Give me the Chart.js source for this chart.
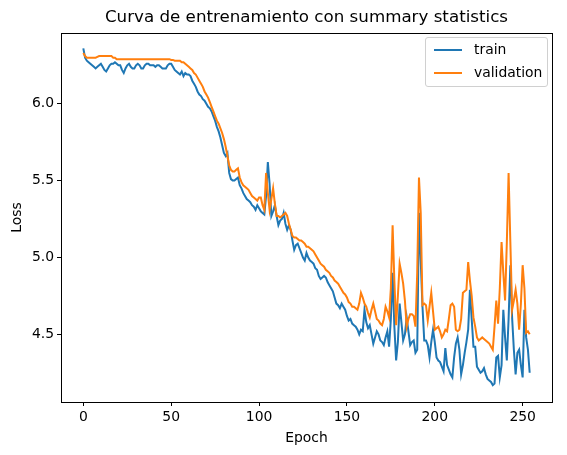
<!DOCTYPE html>
<html>
<head>
<meta charset="utf-8">
<script src="https://cdn.jsdelivr.net/npm/chart.js@4.4.1/dist/chart.umd.min.js"></script>
<style>
  html, body { margin: 0; padding: 0; background: #fff; }
  #wrap { position: relative; width: 567px; height: 455px; }
  canvas { display: block; }
  #legend {
    position: absolute; left: 425px; top: 37px; width: 123px; height: 50px;
    border: 1px solid #d0d0d0; border-radius: 3px; background: rgba(255,255,255,0.8);
    font-family: "DejaVu Sans", sans-serif; font-size: 13.9px; color: #000; box-sizing: border-box;
  }
  .item { position: absolute; left: 0; height: 16px; line-height: 16px; }
  .swatch { position: absolute; left: 8px; top: 7px; width: 28px; height: 2px; }
  .lbl { position: absolute; left: 48px; top: -1px; white-space: nowrap; }
</style>
</head>
<body>
<div id="wrap">
  <canvas id="c" width="567" height="455"></canvas>
  <div id="legend">
    <div class="item" style="top:4px"><div class="swatch" style="background:#1f77b4"></div><span class="lbl">train</span></div>
    <div class="item" style="top:27px"><div class="swatch" style="background:#ff7f0e"></div><span class="lbl">validation</span></div>
  </div>
</div>
<script>
const seriesNames = ["train", "validation"];
const xTicks = [0, 50, 100, 150, 200, 250];
const yTicks = [4.5, 5.0, 5.5, 6.0];

const trainLoss = [
6.36,6.30,6.28,6.27,6.26,6.25,6.24,6.23,6.24,6.25,
6.26,6.24,6.22,6.21,6.23,6.25,6.26,6.26,6.27,6.26,
6.25,6.25,6.22,6.20,6.23,6.25,6.26,6.24,6.23,6.23,
6.25,6.26,6.25,6.23,6.23,6.25,6.26,6.26,6.25,6.25,
6.25,6.24,6.25,6.25,6.24,6.23,6.23,6.23,6.25,6.26,
6.26,6.24,6.22,6.21,6.20,6.19,6.21,6.18,6.20,6.19,
6.19,6.18,6.15,6.13,6.11,6.08,6.06,6.05,6.03,6.02,
6.00,5.98,5.97,5.95,5.92,5.89,5.85,5.82,5.78,5.73,
5.68,5.66,5.68,5.55,5.51,5.50,5.50,5.51,5.52,5.47,
5.45,5.42,5.40,5.38,5.37,5.36,5.34,5.33,5.31,5.34,
5.32,5.30,5.29,5.28,5.40,5.62,5.48,5.27,5.30,5.34,
5.27,5.21,5.24,5.25,5.29,5.22,5.18,5.21,5.18,5.11,
5.05,5.08,5.09,5.06,5.03,5.00,4.98,5.03,5.00,4.98,
4.97,4.96,4.93,4.92,4.88,4.86,4.87,4.88,4.87,4.84,
4.82,4.80,4.78,4.74,4.70,4.69,4.67,4.70,4.68,4.66,
4.62,4.59,4.60,4.57,4.56,4.55,4.53,4.50,4.53,4.52,
4.66,4.58,4.54,4.56,4.50,4.44,4.48,4.52,4.50,4.46,
4.45,4.43,4.48,4.52,4.42,4.60,4.90,4.55,4.33,4.45,
4.70,4.58,4.46,4.50,4.61,4.52,4.43,4.45,4.46,4.38,
4.40,5.29,4.98,4.68,4.46,4.46,4.43,4.35,4.45,4.53,
4.45,4.35,4.33,4.32,4.29,4.26,4.41,4.30,4.27,4.24,
4.22,4.35,4.44,4.48,4.40,4.24,4.30,4.38,4.45,4.53,
4.79,4.60,4.42,4.42,4.29,4.27,4.25,4.26,4.28,4.24,
4.21,4.20,4.19,4.17,4.18,4.35,4.36,4.22,4.30,4.66,
4.48,4.33,4.60,4.95,4.61,4.40,4.24,4.38,4.40,4.30,
4.22,4.66,4.48,4.40,4.25
];

const validationLoss = [
6.33,6.31,6.30,6.30,6.30,6.30,6.30,6.30,6.305,6.31,
6.31,6.31,6.31,6.31,6.31,6.31,6.31,6.30,6.30,6.29,
6.29,6.29,6.29,6.29,6.29,6.29,6.29,6.29,6.29,6.29,
6.29,6.29,6.29,6.29,6.29,6.29,6.29,6.29,6.29,6.29,
6.29,6.29,6.29,6.29,6.29,6.29,6.29,6.29,6.29,6.29,
6.285,6.285,6.28,6.28,6.28,6.28,6.27,6.27,6.26,6.25,
6.24,6.23,6.22,6.20,6.19,6.17,6.15,6.13,6.11,6.08,
6.06,6.04,6.01,5.98,5.95,5.92,5.89,5.87,5.84,5.81,
5.77,5.72,5.66,5.60,5.57,5.56,5.56,5.57,5.58,5.52,
5.49,5.47,5.46,5.45,5.44,5.42,5.40,5.39,5.38,5.37,
5.39,5.39,5.34,5.31,5.55,5.42,5.31,5.38,5.45,5.35,
5.27,5.27,5.26,5.27,5.28,5.29,5.27,5.22,5.18,5.14,
5.13,5.13,5.12,5.11,5.11,5.10,5.09,5.07,5.07,5.06,
5.05,5.04,5.02,5.00,4.98,4.96,4.95,4.94,4.92,4.91,
4.90,4.88,4.87,4.85,4.84,4.83,4.81,4.79,4.77,4.76,
4.74,4.71,4.70,4.68,4.68,4.67,4.66,4.70,4.77,4.74,
4.70,4.68,4.64,4.61,4.66,4.70,4.65,4.60,4.59,4.57,
4.56,4.60,4.68,4.65,4.61,4.80,5.21,4.85,4.56,4.75,
4.96,4.90,4.83,4.72,4.55,4.60,4.63,4.63,4.62,4.55,
4.90,5.52,5.29,4.69,4.70,4.69,4.59,4.68,4.77,4.65,
4.53,4.54,4.55,4.52,4.48,4.50,4.53,4.52,4.60,4.69,
4.70,4.68,4.53,4.52,4.53,4.60,4.77,4.78,4.79,4.97,
4.85,4.75,4.61,4.55,4.48,4.46,4.47,4.48,4.47,4.46,
4.45,4.44,4.42,4.40,4.55,4.72,4.57,4.80,5.10,4.90,
4.72,5.10,5.55,5.10,4.66,4.72,4.79,4.70,4.53,4.70,
4.95,4.80,4.51,4.52,4.50
];

const epochs = trainLoss.map((_, i) => i);
const toPoints = arr => arr.map((v, i) => ({ x: epochs[i], y: v }));

const FONT = '"DejaVu Sans", sans-serif';

const boxPlugin = {
  id: 'box',
  afterDraw(chart) {
    const a = chart.chartArea, ctx = chart.ctx;
    ctx.save();
    ctx.strokeStyle = '#000';
    ctx.lineWidth = 1;
    ctx.strokeRect(Math.round(a.left) + 0.5, Math.round(a.top) + 0.5,
                   Math.round(a.right - a.left), Math.round(a.bottom - a.top));
    ctx.restore();
  }
};

new Chart(document.getElementById('c'), {
  type: 'line',
  data: {
    datasets: [
      { label: seriesNames[0], data: toPoints(trainLoss), borderColor: '#1f77b4',
        backgroundColor: '#1f77b4', borderWidth: 2, pointRadius: 0, tension: 0, order: 1 },
      { label: seriesNames[1], data: toPoints(validationLoss), borderColor: '#ff7f0e',
        backgroundColor: '#ff7f0e', borderWidth: 2, pointRadius: 0, tension: 0, order: 0 }
    ]
  },
  options: {
    responsive: false,
    animation: false,
    layout: { padding: { left: 0, right: 15, top: 0, bottom: 0 } },
    plugins: {
      legend: { display: false },
      tooltip: { enabled: false },
      title: {
        display: true,
        fullSize: false,
        text: 'Curva de entrenamiento con summary statistics',
        color: '#000',
        font: { family: FONT, size: 16.7, weight: 'normal' },
        padding: { top: 8, bottom: 5 }
      }
    },
    scales: {
      x: {
        type: 'linear',
        min: -12.7, max: 266.7,
        afterBuildTicks(s) { s.ticks = xTicks.map(v => ({ value: v })); },
        afterFit(s) { s.height = 53; },
        grid: { display: true, drawOnChartArea: false, tickLength: 4, color: '#000' },
        border: { display: true, color: '#000' },
        ticks: { color: '#000', font: { family: FONT, size: 13.9 }, padding: 3, maxRotation: 0,
                 callback: v => String(v) },
        title: { display: true, text: 'Epoch', color: '#000', font: { family: FONT, size: 13.9 },
                 padding: { top: 2, bottom: 8 } }
      },
      y: {
        type: 'linear',
        min: 4.06, max: 6.46,
        afterBuildTicks(s) { s.ticks = yTicks.map(v => ({ value: v })); },
        afterFit(s) { s.width = 61; },
        grid: { display: true, drawOnChartArea: false, tickLength: 4, color: '#000' },
        border: { display: true, color: '#000' },
        ticks: { color: '#000', font: { family: FONT, size: 13.9 }, padding: 3,
                 callback: v => Number(v).toFixed(1) },
        title: { display: true, text: 'Loss', color: '#000', font: { family: FONT, size: 13.9 },
                 padding: { top: 9, bottom: 0 } }
      }
    }
  },
  plugins: [boxPlugin]
});
</script>
</body>
</html>
